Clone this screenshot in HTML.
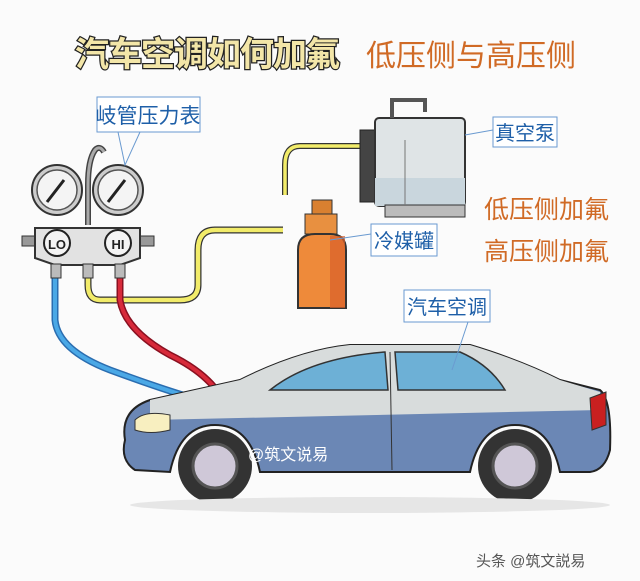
<!DOCTYPE html>
<html><head><meta charset="utf-8"><style>
html,body{margin:0;padding:0;background:#fbfbfb;}
svg{display:block}
text{font-family:"Liberation Sans","Noto Sans CJK SC",sans-serif}
</style></head><body>
<svg width="640" height="581" viewBox="0 0 640 581" xmlns="http://www.w3.org/2000/svg">
<rect width="640" height="581" fill="#fbfbfb"/>
<!-- titles -->
<text x="75" y="66" font-size="34" font-weight="bold" fill="#f3e6a8" stroke="#222" stroke-width="2.5" paint-order="stroke" letter-spacing="-1">汽车空调如何加氟</text>
<text x="366" y="66" font-size="30" fill="#d06a25" letter-spacing="0">低压侧与高压侧</text>
<text x="484" y="218" font-size="25" fill="#d06a25">低压侧加氟</text>
<text x="484" y="260" font-size="25" fill="#d06a25">高压侧加氟</text>

<!-- hoses -->
<path d="M360 146 L300 146 Q285 146 285 165 L285 195" fill="none" stroke="#333" stroke-width="6"/>
<path d="M360 146 L300 146 Q285 146 285 165 L285 195" fill="none" stroke="#f2ec6a" stroke-width="3.5"/>
<path d="M283 230 L215 230 Q198 230 198 250 L198 285 Q198 300 180 300 L100 300 Q88 300 88 285 L88 265" fill="none" stroke="#333" stroke-width="7"/>
<path d="M283 230 L215 230 Q198 230 198 250 L198 285 Q198 300 180 300 L100 300 Q88 300 88 285 L88 265" fill="none" stroke="#f2ec6a" stroke-width="4.5"/>
<path d="M55 268 L55 320 Q58 350 110 370 Q170 392 200 400" fill="none" stroke="#2a6db0" stroke-width="7"/>
<path d="M55 268 L55 320 Q58 350 110 370 Q170 392 200 400" fill="none" stroke="#4aa8e6" stroke-width="4"/>
<path d="M120 268 L120 300 Q125 330 170 355 Q205 372 220 395" fill="none" stroke="#8a1020" stroke-width="7"/>
<path d="M120 268 L120 300 Q125 330 170 355 Q205 372 220 395" fill="none" stroke="#d72a3a" stroke-width="4"/>

<!-- manifold -->
<path d="M88 225 L88 185 Q88 160 95 150 Q100 145 104 152" fill="none" stroke="#444" stroke-width="6"/>
<path d="M88 225 L88 185 Q88 160 95 150 Q100 145 104 152" fill="none" stroke="#aaa" stroke-width="3"/>
<circle cx="57" cy="190" r="25" fill="#ccc" stroke="#333" stroke-width="2"/>
<circle cx="57" cy="190" r="20" fill="#f4f4f4" stroke="#555" stroke-width="1.5"/>
<line x1="47" y1="202" x2="64" y2="180" stroke="#222" stroke-width="3"/>
<circle cx="118" cy="190" r="25" fill="#ccc" stroke="#333" stroke-width="2"/>
<circle cx="118" cy="190" r="20" fill="#f4f4f4" stroke="#555" stroke-width="1.5"/>
<line x1="108" y1="202" x2="125" y2="180" stroke="#222" stroke-width="3"/>
<rect x="22" y="236" width="14" height="10" fill="#999" stroke="#333"/>
<rect x="140" y="236" width="14" height="10" fill="#999" stroke="#333"/>
<path d="M35 228 L140 228 L140 258 L120 265 L55 265 L35 258 Z" fill="#e2e2e2" stroke="#333" stroke-width="2"/>
<circle cx="57" cy="243" r="13" fill="#f4f4f4" stroke="#222" stroke-width="2"/>
<text x="57" y="249" font-size="13" font-weight="bold" text-anchor="middle" fill="#222">LO</text>
<circle cx="118" cy="243" r="13" fill="#f4f4f4" stroke="#222" stroke-width="2"/>
<text x="118" y="249" font-size="13" font-weight="bold" text-anchor="middle" fill="#222">HI</text>
<rect x="51" y="264" width="10" height="14" fill="#bbb" stroke="#333"/>
<rect x="83" y="264" width="10" height="14" fill="#bbb" stroke="#333"/>
<rect x="115" y="264" width="10" height="14" fill="#bbb" stroke="#333"/>
<rect x="97" y="97" width="103" height="35" fill="#fff" stroke="#6a9ad0"/>
<text x="148" y="123" font-size="21" text-anchor="middle" fill="#1e5fa8">岐管压力表</text>
<path d="M118 132 L125 165 L140 132" fill="none" stroke="#6a9ad0"/>

<!-- pump -->
<rect x="360" y="130" width="22" height="72" fill="#444" stroke="#222"/>
<rect x="375" y="118" width="90" height="88" rx="4" fill="#dfe4e6" stroke="#333" stroke-width="2"/>
<rect x="375" y="178" width="90" height="28" fill="#c9d6dd"/>
<path d="M392 118 L392 100 L425 100 L425 112" fill="none" stroke="#555" stroke-width="4"/>
<rect x="385" y="205" width="80" height="12" fill="#bbb" stroke="#333"/>
<line x1="405" y1="140" x2="405" y2="205" stroke="#777"/>
<rect x="493" y="117" width="64" height="30" fill="#fff" stroke="#6a9ad0"/>
<text x="525" y="140" font-size="20" text-anchor="middle" fill="#1e5fa8">真空泵</text>
<line x1="465" y1="135" x2="493" y2="130" stroke="#6a9ad0"/>

<!-- cylinder -->
<rect x="312" y="200" width="20" height="14" fill="#d98030" stroke="#333"/>
<rect x="305" y="214" width="32" height="20" fill="#e89040" stroke="#333"/>
<path d="M298 250 Q298 234 315 234 L330 234 Q346 234 346 250 L346 308 L298 308 Z" fill="#ee8a3a" stroke="#333" stroke-width="2"/>
<rect x="330" y="236" width="15" height="72" fill="#d9602a" opacity="0.7"/>
<rect x="371" y="224" width="66" height="32" fill="#fff" stroke="#6a9ad0"/>
<text x="404" y="248" font-size="20" text-anchor="middle" fill="#1e5fa8">冷媒罐</text>
<line x1="330" y1="240" x2="371" y2="234" stroke="#6a9ad0"/>

<!-- car -->
<path d="M125 440 Q120 410 150 400 L240 380 Q300 350 350 345 L470 345 Q520 360 560 380 L600 390 Q612 400 610 450 Q605 470 590 472 L560 472 Q550 425 515 425 Q480 425 470 472 L260 472 Q250 425 215 425 Q180 425 170 472 L135 470 Q120 460 125 440 Z" fill="#6b87b5" stroke="#222" stroke-width="2"/>
<path d="M150 400 L240 380 Q300 350 350 345 L470 345 Q520 360 560 380 L600 392 L600 410 L150 420 Z" fill="#d8dcdc"/>
<path d="M270 390 Q310 358 385 352 L388 390 Z" fill="#6db0d6" stroke="#333" stroke-width="1.5"/>
<path d="M395 352 L460 352 Q490 365 505 390 L398 390 Z" fill="#6db0d6" stroke="#333" stroke-width="1.5"/>
<path d="M135 420 Q145 410 170 415 L170 430 Q150 435 135 430 Z" fill="#f8efc0" stroke="#333"/>
<path d="M590 398 L606 392 L606 425 L592 430 Z" fill="#c92020" stroke="#333"/>
<line x1="390" y1="352" x2="392" y2="470" stroke="#333"/>
<circle cx="215" cy="466" r="37" fill="#333"/><circle cx="215" cy="466" r="22" fill="#cfc8d8" stroke="#555" stroke-width="3"/>
<circle cx="515" cy="466" r="37" fill="#333"/><circle cx="515" cy="466" r="22" fill="#cfc8d8" stroke="#555" stroke-width="3"/>
<text x="248" y="460" font-size="16" fill="#fff">@筑文说易</text>
<rect x="404" y="290" width="86" height="32" fill="#fff" stroke="#6a9ad0"/>
<text x="447" y="314" font-size="20" text-anchor="middle" fill="#1e5fa8">汽车空调</text>
<line x1="468" y1="322" x2="452" y2="370" stroke="#6a9ad0"/>
<ellipse cx="370" cy="505" rx="240" ry="8" fill="#e6e6e6"/>

<text x="476" y="566" font-size="15" fill="#555">头条 @筑文説易</text>
</svg>
</body></html>
